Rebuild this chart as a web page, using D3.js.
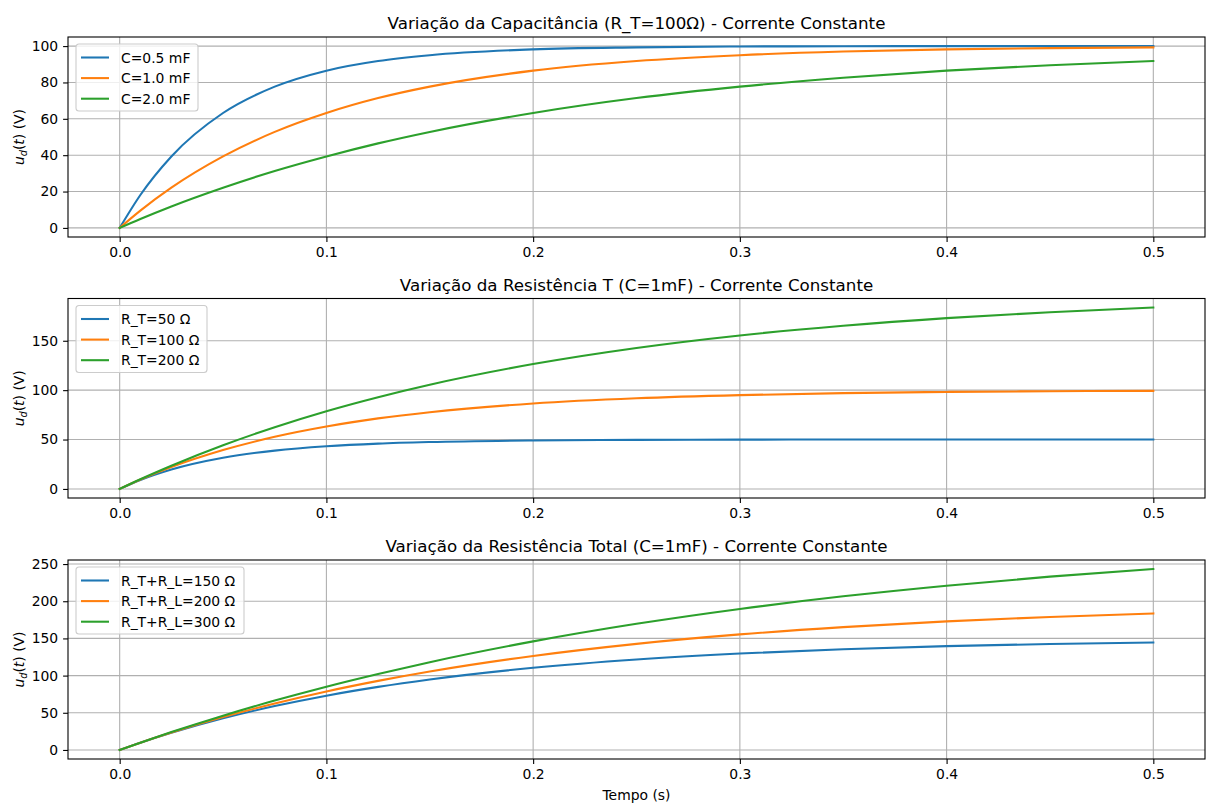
<!DOCTYPE html>
<html>
<head>
<meta charset="utf-8">
<script src="https://cdn.jsdelivr.net/npm/d3@7"></script>
<style>
  body { margin: 0; background: #fff; }
  svg { font-family: "DejaVu Sans", sans-serif; }
  .tick text { font-size: 13.9px; fill: #000; }
  .tick line { stroke: #000; }
  .domain { stroke: none; }
</style>
</head>
<body>
<div id="chart"></div>
<script>
// time samples (s)
var tempo = [0, 0.01, 0.025, 0.05, 0.075, 0.1, 0.125, 0.15, 0.2, 0.25, 0.3, 0.35, 0.4, 0.45, 0.5];

// panel 1 - capacitance
var capLabels = ["C=0.5 mF", "C=1.0 mF", "C=2.0 mF"];
var cap05 = [0, 18.1, 39.3, 63.2, 77.7, 86.5, 91.8, 95.0, 98.2, 99.3, 99.8, 99.9, 100.0, 100.0, 100.0];
var cap10 = [0, 9.5, 22.1, 39.3, 52.8, 63.2, 71.4, 77.7, 86.5, 91.8, 95.0, 97.0, 98.2, 98.9, 99.3];
var cap20 = [0, 4.9, 11.8, 22.1, 31.3, 39.3, 46.5, 52.8, 63.2, 71.4, 77.7, 82.6, 86.5, 89.5, 91.8];

// panel 2 - R_T
var rtLabels = ["R_T=50 \u03A9", "R_T=100 \u03A9", "R_T=200 \u03A9"];
var rt50 = [0, 9.1, 19.7, 31.6, 38.8, 43.2, 45.9, 47.5, 49.1, 49.7, 49.9, 50.0, 50.0, 50.0, 50.0];
var rt100 = [0, 9.5, 22.1, 39.3, 52.8, 63.2, 71.4, 77.7, 86.5, 91.8, 95.0, 97.0, 98.2, 98.9, 99.3];
var rt200 = [0, 9.8, 23.5, 44.2, 62.5, 78.7, 92.9, 105.5, 126.4, 142.7, 155.4, 165.2, 172.9, 178.9, 183.6];

// panel 3 - R_T + R_L
var rtlLabels = ["R_T+R_L=150 \u03A9", "R_T+R_L=200 \u03A9", "R_T+R_L=300 \u03A9"];
var rtl150 = [0, 9.7, 23.0, 42.5, 59.0, 73.0, 84.8, 94.8, 110.5, 121.7, 129.7, 135.5, 139.6, 142.5, 144.6];
var rtl200 = [0, 9.8, 23.5, 44.2, 62.5, 78.7, 92.9, 105.5, 126.4, 142.7, 155.4, 165.2, 172.9, 178.9, 183.6];
var rtl300 = [0, 9.8, 24.0, 46.1, 66.4, 85.1, 102.2, 118.1, 146.0, 169.6, 189.6, 206.6, 220.9, 233.1, 243.3];

var xTicks = [0.0, 0.1, 0.2, 0.3, 0.4, 0.5];
var colors = ["#1f77b4", "#ff7f0e", "#2ca02c"];

var panels = [
  { title: "Varia\u00e7\u00e3o da Capacit\u00e2ncia (R_T=100\u03A9) - Corrente Constante",
    labels: capLabels, series: [cap05, cap10, cap20], yTicks: [0, 20, 40, 60, 80, 100],
    top: 37, bottom: 237, legendW: 122 },
  { title: "Varia\u00e7\u00e3o da Resist\u00eancia T (C=1mF) - Corrente Constante",
    labels: rtLabels, series: [rt50, rt100, rt200], yTicks: [0, 50, 100, 150],
    top: 298.5, bottom: 498, legendW: 131 },
  { title: "Varia\u00e7\u00e3o da Resist\u00eancia Total (C=1mF) - Corrente Constante",
    labels: rtlLabels, series: [rtl150, rtl200, rtl300], yTicks: [0, 50, 100, 150, 200, 250],
    top: 560, bottom: 759, legendW: 168 }
];

var W = 1206, H = 804;
var left = 68, right = 1205;

var svg = d3.select("#chart").append("svg")
  .attr("width", W).attr("height", H);

var xScale = d3.scaleLinear().domain([-0.025, 0.525]).range([left, right]);

panels.forEach(function(p) {
  var allVals = d3.merge(p.series);
  var ymin = d3.min(allVals), ymax = d3.max(allVals);
  var pad = (ymax - ymin) * 0.05;
  var yScale = d3.scaleLinear().domain([ymin - pad, ymax + pad]).range([p.bottom, p.top]);

  var g = svg.append("g");

  // grid
  g.append("g").selectAll("line").data(xTicks).enter().append("line")
    .attr("x1", function(d) { return xScale(d); })
    .attr("x2", function(d) { return xScale(d); })
    .attr("y1", p.top).attr("y2", p.bottom)
    .attr("stroke", "#b0b0b0").attr("stroke-width", 1.1);
  g.append("g").selectAll("line").data(p.yTicks).enter().append("line")
    .attr("y1", function(d) { return yScale(d); })
    .attr("y2", function(d) { return yScale(d); })
    .attr("x1", left).attr("x2", right)
    .attr("stroke", "#b0b0b0").attr("stroke-width", 1.1);

  // lines
  var line = d3.line()
    .x(function(d, i) { return xScale(tempo[i]); })
    .y(function(d) { return yScale(d); })
    .curve(d3.curveMonotoneX);
  p.series.forEach(function(s, i) {
    g.append("path").datum(s)
      .attr("d", line)
      .attr("fill", "none")
      .attr("stroke", colors[i])
      .attr("stroke-width", 2.08)
      .attr("stroke-linecap", "square");
  });

  // axes
  var xAxis = d3.axisBottom(xScale).tickValues(xTicks)
    .tickFormat(d3.format(".1f")).tickSizeOuter(0).tickSize(4.9).tickPadding(4.9);
  g.append("g").attr("transform", "translate(0," + p.bottom + ")").call(xAxis)
    .selectAll(".tick line").attr("stroke-width", 1.1);
  var yAxis = d3.axisLeft(yScale).tickValues(p.yTicks)
    .tickFormat(d3.format("d")).tickSizeOuter(0).tickSize(4.9).tickPadding(4.9);
  g.append("g").attr("transform", "translate(" + left + ",0)").call(yAxis)
    .selectAll(".tick line").attr("stroke-width", 1.1);
  g.selectAll(".tick text").attr("font-family", "DejaVu Sans").attr("font-size", "13.9px");

  // frame
  g.append("rect")
    .attr("x", left).attr("y", p.top)
    .attr("width", right - left).attr("height", p.bottom - p.top)
    .attr("fill", "none").attr("stroke", "#000").attr("stroke-width", 1.1);

  // title
  g.append("text")
    .attr("x", (left + right) / 2).attr("y", p.top - 8)
    .attr("text-anchor", "middle")
    .style("font-size", "16.7px")
    .text(p.title);

  // y label
  var yl = g.append("text")
    .attr("transform", "translate(24," + ((p.top + p.bottom) / 2) + ") rotate(-90)")
    .attr("text-anchor", "middle")
    .style("font-size", "13.9px");
  yl.append("tspan").attr("font-style", "italic").text("u");
  yl.append("tspan").attr("font-style", "italic").attr("font-size", "9.7px").attr("dy", 2.5).text("d");
  yl.append("tspan").attr("dy", -2.5).text("(");
  yl.append("tspan").attr("font-style", "italic").text("t");
  yl.append("tspan").text(") (V)");

  // legend
  var lg = g.append("g").attr("transform", "translate(" + (left + 8) + "," + (p.top + 7) + ")");
  lg.append("rect")
    .attr("width", p.legendW).attr("height", 67)
    .attr("rx", 3).attr("ry", 3)
    .attr("fill", "#fff").attr("fill-opacity", 0.8)
    .attr("stroke", "#cccccc").attr("stroke-width", 1.1);
  p.labels.forEach(function(lab, i) {
    var yy = 13.5 + i * 20.6;
    lg.append("line")
      .attr("x1", 5).attr("x2", 33).attr("y1", yy).attr("y2", yy)
      .attr("stroke", colors[i]).attr("stroke-width", 2.08);
    lg.append("text")
      .attr("x", 45).attr("y", yy + 5)
      .style("font-size", "13.9px")
      .text(lab);
  });
});

// x label
svg.append("text")
  .attr("x", (left + right) / 2).attr("y", 800)
  .attr("text-anchor", "middle")
  .style("font-size", "13.9px")
  .text("Tempo (s)");
</script>
</body>
</html>
